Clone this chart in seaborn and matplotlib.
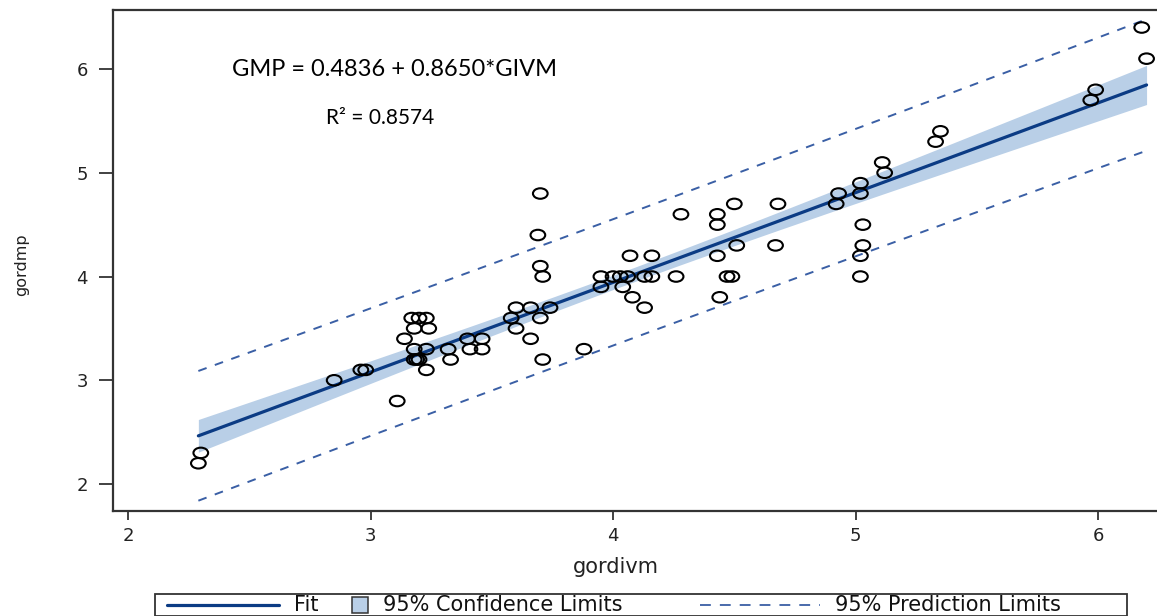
import numpy as np
import pandas as pd
import matplotlib
matplotlib.use("Agg")
import matplotlib.pyplot as plt
import seaborn as sns
from matplotlib.path import Path
from matplotlib.lines import Line2D
from matplotlib.patches import Rectangle
from matplotlib.offsetbox import DrawingArea, TextArea, HPacker, AnchoredOffsetbox

# ---------------- data ----------------
gordivm = [2.30, 2.29, 2.85, 2.96, 2.98, 3.11, 3.14, 3.17, 3.20, 3.23,
           3.18, 3.24, 3.18, 3.23, 3.18, 3.19, 3.20, 3.23, 3.32, 3.33,
           3.40, 3.46, 3.41, 3.46, 3.58, 3.60, 3.66, 3.74, 3.60, 3.66,
           3.70, 3.71, 3.70, 3.69, 3.70, 3.71, 3.88, 3.95, 3.95, 4.00,
           4.03, 4.06, 4.04, 4.07, 4.16, 4.08, 4.13, 4.13, 4.16, 4.26,
           4.28, 4.43, 4.43, 4.43, 4.44, 4.50, 4.51, 4.47, 4.49, 4.68,
           4.67, 4.92, 4.93, 5.02, 5.02, 5.03, 5.03, 5.02, 5.02, 5.11,
           5.12, 5.33, 5.35, 5.97, 5.99, 6.18, 6.20]
gordmp = [2.30, 2.20, 3.00, 3.10, 3.10, 2.80, 3.40, 3.60, 3.60, 3.60,
          3.50, 3.50, 3.30, 3.30, 3.20, 3.20, 3.20, 3.10, 3.30, 3.20,
          3.40, 3.40, 3.30, 3.30, 3.60, 3.70, 3.70, 3.70, 3.50, 3.40,
          3.60, 3.20, 4.80, 4.40, 4.10, 4.00, 3.30, 4.00, 3.90, 4.00,
          4.00, 4.00, 3.90, 4.20, 4.20, 3.80, 3.70, 4.00, 4.00, 4.00,
          4.60, 4.60, 4.50, 4.20, 3.80, 4.70, 4.30, 4.00, 4.00, 4.70,
          4.30, 4.70, 4.80, 4.90, 4.80, 4.50, 4.30, 4.20, 4.00, 5.10,
          5.00, 5.30, 5.40, 5.70, 5.80, 6.40, 6.10]
intercept = 0.4836
slope = 0.8650
r_squared = 0.8574
x_ticks = [2, 3, 4, 5, 6]
y_ticks = [2, 3, 4, 5, 6]
legend_labels = ["Fit", "95% Confidence Limits", "95% Prediction Limits"]
T_CRIT = 1.99

# ---------------- styling ----------------
FIT_COLOR = "#0B3B84"
BAND_COLOR = "#B9CFE7"
PRED_COLOR = "#3A5FA5"
AX_COLOR = "#333333"

sns.set_style("ticks")
plt.rcParams["font.family"] = ["DejaVu Sans"]

df = pd.DataFrame({"gordivm": gordivm, "gordmp": gordmp})

# regression statistics
x = df["gordivm"].to_numpy()
y = df["gordmp"].to_numpy()
n = len(x)
resid = y - (intercept + slope * x)
s = np.sqrt(np.sum(resid ** 2) / (n - 2))
xbar = x.mean()
sxx = np.sum((x - xbar) ** 2)
xs = np.unique(x)
fit = intercept + slope * xs
se_m = s * np.sqrt(1 / n + (xs - xbar) ** 2 / sxx)
se_p = s * np.sqrt(1 + 1 / n + (xs - xbar) ** 2 / sxx)
band = pd.DataFrame({"x": xs, "fit": fit,
                     "clm_lo": fit - T_CRIT * se_m, "clm_hi": fit + T_CRIT * se_m,
                     "pl_lo": fit - T_CRIT * se_p, "pl_hi": fit + T_CRIT * se_p})

W, H = 1157, 616
fig = plt.figure(figsize=(W / 100, H / 100), dpi=100)
ax = fig.add_axes([113 / W, 105 / H, 1044 / W, 501 / H])

ax.fill_between(band["x"], band["clm_lo"], band["clm_hi"], color=BAND_COLOR, lw=0, zorder=1)
sns.lineplot(data=band, x="x", y="fit", ax=ax, color=FIT_COLOR, lw=2.3, zorder=3, errorbar=None)
for col in ["pl_lo", "pl_hi"]:
    sns.lineplot(data=band, x="x", y=col, ax=ax, color=PRED_COLOR, lw=1.4,
                 dashes=(4.5, 4.5), zorder=3, errorbar=None)

# open circle marker, slightly wide as in the reference
uc = Path.unit_circle()
ell = Path(uc.vertices * np.array([1.4, 1.0]), uc.codes)
sns.scatterplot(data=df, x="gordivm", y="gordmp", ax=ax, marker=ell, s=112,
                facecolor="none", edgecolor="black", linewidth=1.5, zorder=4)

ax.set_xlim(1.938, 6.243)
ax.set_ylim(1.740, 6.569)
ax.set_xticks(x_ticks)
ax.set_yticks(y_ticks)
ax.tick_params(axis="x", length=6.5, width=1.3, colors=AX_COLOR, labelsize=13, pad=5, labelcolor="#222222")
ax.tick_params(axis="y", length=10, width=1.3, colors=AX_COLOR, labelsize=13, pad=8, labelcolor="#222222")
ax.spines["right"].set_visible(False)
for sp in ["left", "bottom", "top"]:
    ax.spines[sp].set_color(AX_COLOR)
    ax.spines[sp].set_linewidth(1.6)

ax.set_xlabel("gordivm", fontsize=15, color="#222222")
ax.xaxis.set_label_coords(503 / 1044, -56 / 501)
ax.xaxis.label.set_va("center")
ax.set_ylabel("gordmp", fontsize=11.5, color="#222222")
ax.yaxis.set_label_coords(-91 / 1044, 246 / 501)
ax.yaxis.label.set_va("center")

fig.text(232 / W, 1 - 69 / H, f"GMP = {intercept:.4f} + {slope:.4f}*GIVM",
         family="Lato", fontsize=17, va="center", ha="left", color="black")
fig.text(326 / W, 1 - 118 / H, f"R² = {r_squared:.4f}",
         family="Lato", fontsize=15, va="center", ha="left", color="black")

# ---------------- legend (custom row) ----------------
def px(v):
    return v * 72 / 100

hh = px(20)

def line_box(w, **kw):
    da = DrawingArea(px(w), hh, 0, 0)
    da.add_artist(Line2D([0, px(w)], [hh / 2, hh / 2], **kw))
    return da

def spacer(w):
    return DrawingArea(px(w), hh, 0, 0)

sq = DrawingArea(px(17), hh, 0, 0)
sq.add_artist(Rectangle((px(0.5), hh / 2 - px(8)), px(16), px(16), fc=BAND_COLOR, ec=AX_COLOR, lw=1.1))

def txt(s_):
    return TextArea(s_, textprops=dict(fontsize=15, color="#111111"))

row = HPacker(children=[
    spacer(11), line_box(112, color=FIT_COLOR, lw=2.3), spacer(15), txt(legend_labels[0]), spacer(33),
    sq, spacer(14), txt(legend_labels[1]), spacer(78),
    line_box(120, color=PRED_COLOR, lw=1.3, dashes=(6, 5)), spacer(15), txt(legend_labels[2]), spacer(65),
], align="center", pad=0, sep=0)
box = AnchoredOffsetbox(loc="upper left", child=row, pad=0.08, borderpad=0, frameon=True,
                        bbox_to_anchor=(155 / W, 1 - 594 / H), bbox_transform=fig.transFigure)
box.patch.set_edgecolor(AX_COLOR)
box.patch.set_linewidth(1.3)
box.patch.set_boxstyle("square", pad=0)
fig.add_artist(box)

fig.savefig("out.png", dpi=100)
